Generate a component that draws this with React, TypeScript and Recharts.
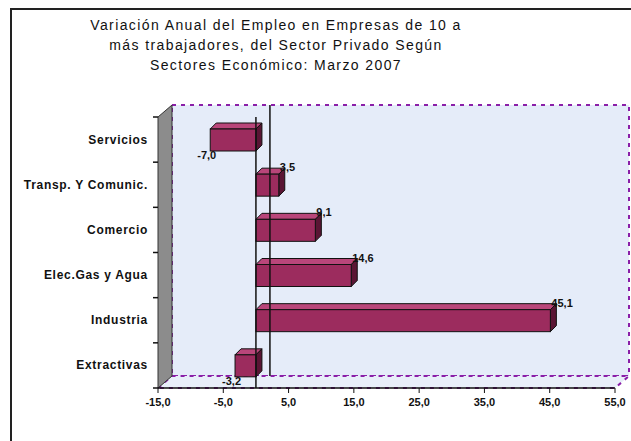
import React from "react";
import {
  BarChart,
  Bar,
  XAxis,
  YAxis,
  LabelList,
  ReferenceLine,
} from "recharts";

// Data
const sectors = [
  "Servicios",
  "Transp. Y Comunic.",
  "Comercio",
  "Elec.Gas y Agua",
  "Industria",
  "Extractivas",
];
const variation = [-7.0, 3.5, 9.1, 14.6, 45.1, -3.2];
const xTicks = [-15, -5, 5, 15, 25, 35, 45, 55];
const titleLines = [
  "Variación Anual del Empleo en Empresas de 10 a",
  "más trabajadores, del Sector Privado Según",
  "Sectores Económico: Marzo 2007",
];

const data = sectors.map((name, i) => ({ name, value: variation[i] }));

// layout
const W = 631;
const H = 441;
const M = { top: 117, right: 16, bottom: 23, left: 0 };
const Y_W = 158;
const X_H = 30;
const DX = 14; // 3D wall depth
const DY = 12;
const PURPLE = "#8a1fa8";
const BAR = "#9c2c5e";
const FONT = "Liberation Sans, Arial, sans-serif";

const fmt = (v: number) => v.toFixed(1).replace(".", ",");

const Bar3D = (props: any) => {
  const { x, y, width, height } = props;
  const x0 = Math.min(x, x + width);
  const w = Math.abs(width);
  const d = 6;
  return (
    <g stroke="#111" strokeWidth={1}>
      <polygon
        points={`${x0},${y} ${x0 + d},${y - d} ${x0 + w + d},${y - d} ${x0 + w},${y}`}
        fill="#b9467a"
      />
      <polygon
        points={`${x0 + w},${y} ${x0 + w + d},${y - d} ${x0 + w + d},${y + height - d} ${x0 + w},${y + height}`}
        fill="#5a1534"
      />
      <rect x={x0} y={y} width={w} height={height} fill={BAR} />
    </g>
  );
};

const ValueLabel = (props: any) => {
  const { x, y, width, height, value } = props;
  if (value >= 0) {
    return (
      <text x={x + width + 1} y={y - 3} fontSize={11} fontWeight="bold" fill="#111" fontFamily={FONT}>
        {fmt(value)}
      </text>
    );
  }
  const left = Math.min(x, x + width);
  return (
    <text x={left + 6} y={y + height + 8} fontSize={11} fontWeight="bold" fill="#111"
      textAnchor="end" fontFamily={FONT}>
      {fmt(value)}
    </text>
  );
};

const CatTick = (props: any) => {
  const { x, y, payload } = props;
  return (
    <text x={x - 2} y={y + 4} textAnchor="end" fontSize={12} fontWeight="bold"
      letterSpacing={0.7} fill="#111" fontFamily={FONT}>
      {payload.value}
    </text>
  );
};

const BackZero = (props: any) => {
  const { x1, y1, y2 } = props;
  return <line x1={x1 + DX} x2={x1 + DX} y1={y1 - DY} y2={y2 - DY} stroke="#111" strokeWidth={1.5} />;
};

// back wall, side wall and floor (decoration behind the chart)
function Walls() {
  const l = M.left + Y_W;
  const r = W - M.right;
  const t = M.top;
  const b = H - M.bottom - X_H;
  const n = sectors.length;
  const band = (b - t) / n;
  return (
    <svg width={W} height={H} style={{ position: "absolute", left: 0, top: 0 }}>
      <rect x={l + DX} y={t - DY} width={r - l} height={b - t} fill="#e5ecf9" />
      <rect x={l + DX} y={t - DY} width={r - l} height={b - t} fill="none"
        stroke={PURPLE} strokeWidth={2} strokeDasharray="4 5" />
      <polygon points={`${l},${b} ${l + DX},${b - DY} ${r + DX},${b - DY} ${r},${b}`}
        fill="#e8eef9" stroke={PURPLE} strokeWidth={2} strokeDasharray="4 5" />
      <polygon points={`${l},${t} ${l + DX},${t - DY} ${l + DX},${b - DY} ${l},${b}`}
        fill="#8c8c8c" stroke="#333" strokeWidth={1} />
      {Array.from({ length: n + 1 }).map((_, i) => (
        <line key={i} x1={l - 5} x2={l} y1={t + i * band} y2={t + i * band} stroke="#111" strokeWidth={1.5} />
      ))}
    </svg>
  );
}

export default function App() {
  return (
    <div style={{ position: "absolute", left: 0, top: 0, width: W, height: H, overflow: "hidden", background: "#fff" }}>
      <div style={{ position: "absolute", left: 10, top: 8, width: 660, height: 480, border: "2px solid #222" }} />
      <div style={{ position: "absolute", left: 66, top: 15, width: 420, textAlign: "center",
        fontFamily: FONT, fontSize: 14, lineHeight: "20px", letterSpacing: 1.4, color: "#111" }}>
        {titleLines.map((t) => <div key={t}>{t}</div>)}
      </div>
      <Walls />
      <div style={{ position: "absolute", left: 0, top: 0 }}>
        <BarChart width={W} height={H} data={data} layout="vertical" margin={M} barSize={22}>
          <XAxis type="number" domain={[-15, 55]} ticks={xTicks} tickFormatter={fmt}
            height={X_H} interval={0} tickSize={5} tickMargin={5} stroke="#111"
            axisLine={{ stroke: "#111", strokeWidth: 1.5 }}
            tick={{ fontSize: 11, fontWeight: "bold", fill: "#111", fontFamily: FONT }} />
          <YAxis type="category" dataKey="name" width={Y_W} tickLine={false}
            axisLine={false} tick={<CatTick />} interval={0} />
          <ReferenceLine x={0} stroke="#111" strokeWidth={1.5} shape={<BackZero />} ifOverflow="visible" />
          <ReferenceLine x={0} stroke="#111" strokeWidth={1.5} />
          <Bar dataKey="value" shape={<Bar3D />} isAnimationActive={false}>
            <LabelList dataKey="value" content={<ValueLabel />} />
          </Bar>
        </BarChart>
      </div>
    </div>
  );
}
